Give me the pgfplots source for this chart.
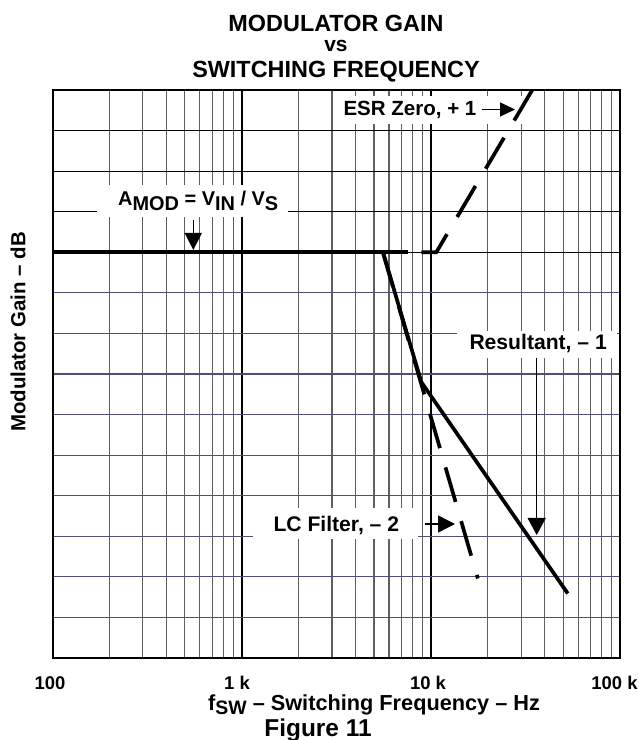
\documentclass[border=0pt]{standalone}
\usepackage{pgfplots}
\pgfplotsset{compat=1.18}
\usepackage{fontspec}
\setmainfont{Liberation Sans}
\usetikzlibrary{arrows.meta}
\definecolor{gridblue}{RGB}{78,78,122}
\definecolor{minorgray}{RGB}{95,95,95}
\newcommand\fs[1]{\fontsize{#1}{#1}\selectfont\bfseries}
\begin{document}
\begin{tikzpicture}
\useasboundingbox (0,0) rectangle (639bp,740bp);
% grid axis
\begin{axis}[
  at={(52.7bp,82bp)}, anchor=south west, scale only axis,
  width=567.3bp, height=568bp,
  xmode=log, xmin=100, xmax=100000, ymin=0, ymax=14,
  xtick={100,1000,10000,100000},
  minor xtick={200,300,400,500,600,700,800,900,2000,3000,4000,5000,6000,7000,8000,9000,20000,30000,40000,50000,60000,70000,80000,90000},
  ytick={1,2,3,4,5,6,7,8,9},
  xticklabels={}, yticklabels={},
  major tick length=0pt, minor tick length=0pt,
  xmajorgrids=true, xminorgrids=true, ymajorgrids=true,
  major x grid style={black, line width=1.4bp},
  minor x grid style={minorgray, line width=1.1bp},
  major y grid style={gridblue, line width=1.1bp},
  axis line style={black, line width=1.6bp},
]
\draw[black, line width=1.1bp] (axis cs:100,11) -- (axis cs:100000,11);
\draw[black, line width=1.1bp] (axis cs:100,12) -- (axis cs:100000,12);
\draw[black, line width=1.1bp] (axis cs:100,13) -- (axis cs:100000,13);
\draw[black, line width=1.1bp] (axis cs:100,10) -- (axis cs:100000,10);
\end{axis}
% white label backgrounds
\begin{scope}[x=1bp,y=-1bp,shift={(0,-740)}]
\fill[white] (336,96) rectangle (522,124);
\fill[white] (97,185) rectangle (288,217);
\fill[white] (457,331) rectangle (617,358);
\fill[white] (253,508) rectangle (418,539);
\end{scope}
% curves
\begin{axis}[
  at={(52.7bp,82bp)}, anchor=south west, scale only axis,
  width=567.3bp, height=568bp,
  xmode=log, xmin=100, xmax=100000, ymin=0, ymax=14,
  hide axis, no markers]
\addplot[black, line width=3.7bp] coordinates {(100,10) (7530,10)};
\addplot[black, line width=3.7bp] coordinates {(5577,10) (8900,6.80) (52940,1.59)};
\addplot[black, line width=3.7bp, dash pattern=on 36bp off 20bp] coordinates {(5577,10) (17710,1.96)};
\addplot[black, line width=3.7bp, dash pattern=on 36bp off 20bp] coordinates {(8900,10) (10680,10) (34340,14)};
\end{axis}
% text and arrows
\begin{scope}[x=1bp,y=-1bp,shift={(0,-740)}]
\node[anchor=base, font=\fs{23.5}, inner sep=0] at (336,32) {MODULATOR GAIN};
\node[anchor=base, font=\fs{21}, inner sep=0] at (336,52) {vs};
\node[anchor=base, font=\fs{23.5}, inner sep=0] at (336,77.5) {SWITCHING FREQUENCY};
\node[rotate=90, font=\fs{20.5}, inner sep=0] at (18,332) {Modulator Gain – dB};
% tick labels
\node[anchor=base, font=\fs{18.5}, inner sep=0] at (50,689.5) {100};
\node[anchor=base, font=\fs{18.5}, inner sep=0] at (237,689.5) {1 k};
\node[anchor=base, font=\fs{18.5}, inner sep=0] at (428,689.5) {10 k};
\node[anchor=base, font=\fs{18.5}, inner sep=0] at (614.5,689.5) {100 k};
\node[anchor=base west, font=\fs{21.8}, inner sep=0] at (208,710) {f\raisebox{-4bp}{\fs{19.5}SW} – Switching Frequency – Hz};
\node[anchor=base, font=\fs{24.5}, inner sep=0] at (318,736) {Figure 11};
% annotations
\node[anchor=base west, font=\fs{20.6}, inner sep=0] at (343.3,116) {ESR Zero, + 1};
\draw[line width=1.5bp, -{Triangle[length=15bp,width=14bp]}] (482,109.5) -- (515,109.5);
\node[anchor=base west, font=\fs{20}, inner sep=0] at (118,206) {A\raisebox{-5bp}{MOD} = V\raisebox{-5bp}{IN} / V\raisebox{-5bp}{S}};
\draw[line width=1.5bp, -{Triangle[length=17bp,width=17bp]}] (193.3,220) -- (193.3,250);
\node[anchor=base west, font=\fs{21.2}, inner sep=0] at (469.3,350) {Resultant, – 1};
\draw[line width=1.5bp, -{Triangle[length=17bp,width=18bp]}] (536.7,358) -- (536.7,535);
\node[anchor=base west, font=\fs{21.2}, inner sep=0] at (273.3,531) {LC Filter, – 2};
\draw[line width=1.5bp, -{Triangle[length=17bp,width=17bp]}] (425,524) -- (455,524);
\end{scope}
\end{tikzpicture}
\end{document}
